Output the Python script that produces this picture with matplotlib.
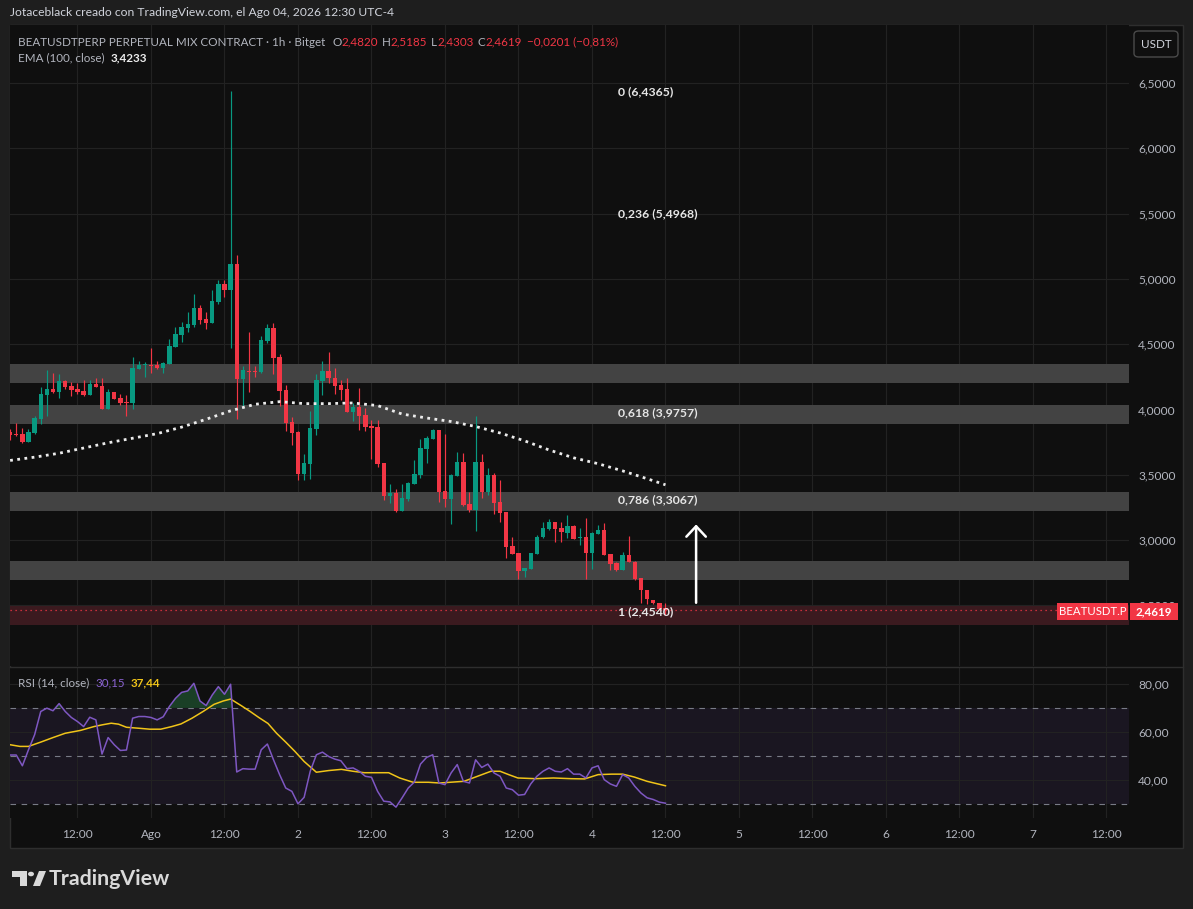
import matplotlib
matplotlib.use('Agg')
import matplotlib.pyplot as plt
from matplotlib.patches import Rectangle, FancyBboxPatch, Polygon, Circle
import numpy as np

plt.rcParams['font.family'] = ['Lato', 'DejaVu Sans']

# ---------------- data ----------------
opens = [3.828, 3.815, 3.812, 3.751, 3.822, 3.927, 4.111, 4.157, 4.134, 4.218,
         4.180, 4.157, 4.142, 4.111, 4.195, 4.180, 4.004, 4.134, 4.088, 4.058,
         4.050, 4.310, 4.339, 4.341, 4.341, 4.318, 4.349, 4.479, 4.571, 4.624,
         4.647, 4.777, 4.693, 4.662, 4.823, 4.961, 4.915, 5.114, 4.234, 4.297,
         4.295, 4.287, 4.525, 4.624, 4.402, 4.149, 3.904, 3.828, 3.508, 3.585,
         3.853, 4.220, 4.295, 4.241, 4.188, 4.157, 3.983, 4.019, 3.958, 3.874,
         3.866, 3.590, 3.340, 3.361, 3.225, 3.315, 3.430, 3.499, 3.698, 3.774,
         3.843, 3.376, 3.315, 3.491, 3.598, 3.277, 3.231, 3.598, 3.368, 3.499,
         3.292, 3.215, 2.955, 2.901, 2.766, 2.779, 2.893, 3.024, 3.088, 3.139,
         3.093, 3.054, 3.108, 3.016, 3.024, 2.901, 3.047, 3.077, 2.893, 2.825,
         2.771, 2.886, 2.832, 2.710, 2.618, 2.541, 2.518, 2.4820]
highs = [3.851, 3.899, 3.858, 3.851, 3.950, 4.172, 4.302, 4.279, 4.272, 4.226,
         4.210, 4.203, 4.226, 4.226, 4.241, 4.241, 4.157, 4.134, 4.119, 4.111,
         4.402, 4.371, 4.364, 4.471, 4.371, 4.364, 4.540, 4.632, 4.670, 4.747,
         4.884, 4.800, 4.747, 4.915, 4.992, 4.992, 6.4365, 5.183, 4.335, 4.593,
         4.333, 4.563, 4.657, 4.662, 4.425, 4.187, 3.940, 3.838, 3.659, 3.989,
         4.272, 4.371, 4.440, 4.318, 4.226, 4.241, 4.050, 4.165, 4.012, 3.920,
         3.920, 3.590, 3.430, 3.391, 3.430, 3.445, 3.613, 3.774, 3.797, 3.851,
         3.843, 3.812, 3.506, 3.675, 3.667, 3.368, 3.950, 3.659, 3.552, 3.514,
         3.460, 3.215, 3.024, 2.901, 2.786, 2.901, 3.039, 3.139, 3.162, 3.139,
         3.139, 3.192, 3.116, 3.093, 3.169, 3.062, 3.116, 3.131, 2.893, 2.832,
         2.909, 3.031, 2.840, 2.710, 2.618, 2.541, 2.518, 2.5185]
lows = [3.766, 3.797, 3.746, 3.751, 3.812, 3.889, 3.950, 4.126, 4.088, 4.157,
        4.103, 4.119, 4.103, 4.111, 4.172, 4.004, 4.004, 4.080, 4.035, 3.950,
        4.004, 4.310, 4.249, 4.279, 4.310, 4.279, 4.349, 4.479, 4.517, 4.593,
        4.632, 4.655, 4.616, 4.662, 4.808, 4.862, 4.471, 3.927, 4.014, 4.136,
        4.252, 4.282, 4.509, 4.274, 4.029, 3.838, 3.731, 3.463, 3.463, 3.470,
        3.807, 4.113, 4.205, 4.121, 4.075, 3.983, 3.912, 3.846, 3.838, 3.624,
        3.562, 3.310, 3.287, 3.218, 3.225, 3.299, 3.430, 3.478, 3.590, 3.774,
        3.292, 3.253, 3.123, 3.491, 3.261, 3.215, 3.070, 3.322, 3.345, 3.200,
        3.139, 2.863, 2.893, 2.702, 2.717, 2.779, 2.893, 3.016, 3.078, 2.985,
        2.985, 3.016, 3.008, 2.962, 2.702, 2.779, 3.047, 2.886, 2.771, 2.764,
        2.771, 2.832, 2.695, 2.518, 2.511, 2.511, 2.465, 2.4303]
closes = [3.807, 3.805, 3.751, 3.828, 3.935, 4.119, 4.157, 4.134, 4.218, 4.172,
          4.149, 4.134, 4.111, 4.195, 4.172, 4.004, 4.134, 4.080, 4.050, 4.050,
          4.318, 4.341, 4.341, 4.333, 4.318, 4.356, 4.486, 4.578, 4.632, 4.655,
          4.777, 4.685, 4.662, 4.831, 4.961, 4.915, 5.114, 4.234, 4.302, 4.287,
          4.287, 4.532, 4.624, 4.397, 4.144, 3.899, 3.822, 3.508, 3.588, 3.858,
          4.226, 4.295, 4.240, 4.180, 4.149, 3.983, 4.019, 3.953, 3.869, 3.861,
          3.585, 3.340, 3.361, 3.220, 3.322, 3.437, 3.506, 3.705, 3.782, 3.843,
          3.368, 3.315, 3.499, 3.598, 3.269, 3.231, 3.598, 3.368, 3.499, 3.284,
          3.208, 2.950, 2.893, 2.766, 2.786, 2.901, 3.024, 3.093, 3.139, 3.085,
          3.062, 3.108, 3.008, 3.024, 2.901, 3.054, 3.077, 2.886, 2.817, 2.771,
          2.886, 2.832, 2.702, 2.618, 2.549, 2.518, 2.472, 2.4619]

# EMA(100) read at selected candle indices
ema_idx = [0, 4, 8, 12, 16, 20, 24, 28, 32, 36, 38, 40, 44, 48, 52, 56, 60, 64,
           68, 72, 76, 80, 84, 88, 92, 96, 100, 104, 107]
ema_val = [3.610, 3.635, 3.665, 3.705, 3.745, 3.780, 3.815, 3.865, 3.925, 3.990,
           4.015, 4.040, 4.060, 4.045, 4.045, 4.050, 4.030, 3.965, 3.935, 3.908,
           3.870, 3.820, 3.760, 3.690, 3.630, 3.585, 3.530, 3.470, 3.4233]

rsi = [50.3, 50.3, 45.8, 52.5, 58.8, 68.5, 69.9, 68.8, 71.8, 68.5,
       66.0, 64.3, 62.2, 66.1, 65.0, 50.7, 57.6, 54.6, 52.2, 52.4,
       65.7, 66.4, 66.4, 66.0, 65.0, 66.3, 70.6, 74.0, 76.5, 77.1,
       80.3, 72.9, 71.0, 75.4, 78.9, 75.7, 79.9, 43.2, 44.6, 44.4,
       44.4, 52.5, 54.9, 48.3, 42.1, 36.5, 35.1, 29.9, 32.6, 43.5,
       50.4, 51.5, 49.7, 48.6, 47.9, 44.6, 44.9, 43.5, 41.4, 41.0,
       35.1, 31.0, 30.7, 28.5, 32.4, 36.5, 39.0, 46.5, 49.3, 50.4,
       38.6, 37.9, 42.8, 46.3, 39.3, 38.6, 48.3, 45.1, 46.5, 42.8,
       41.4, 36.5, 35.8, 33.5, 33.8, 38.2, 41.4, 43.5, 44.9, 43.5,
       43.2, 44.6, 42.3, 42.3, 40.7, 44.9, 45.8, 40.0, 38.2, 37.2,
       42.1, 40.7, 37.2, 34.4, 32.4, 31.7, 30.6, 30.15]

rsi_ma_idx = [0, 1.6, 3, 5, 7, 9, 11.5, 13.7, 15, 16.5, 17.7, 19, 21, 22.8, 24.6,
              26.4, 27.9, 29.7, 31.5, 33.3, 34.8, 36, 37.7, 39.2, 40.6, 42.1,
              43.5, 45, 46.5, 48, 50, 52, 54.1, 56, 57.8, 60, 61.8, 63.6, 65.8,
              68.3, 70.1, 74.1, 76.3, 78.5, 80, 81.4, 82.9, 85.8, 88.7, 91.6,
              93.8, 96, 98.2, 100, 101.9, 104, 107]
rsi_ma_val = [54.6, 53.9, 53.9, 55.7, 57.6, 59.4, 60.6, 62.2, 62.9, 63.6, 63.2,
              61.9, 61.5, 61.1, 61.1, 62.2, 63.3, 65.7, 68.5, 71.5, 72.9, 73.7,
              71.0, 68.5, 66.0, 63.5, 59.4, 55.7, 51.8, 47.6, 43.1, 43.8, 44.3,
              43.5, 42.9, 42.9, 42.9, 40.7, 38.9, 38.9, 38.6, 39.3, 41.4, 43.5,
              43.5, 42.1, 40.7, 40.4, 40.7, 40.4, 40.3, 42.1, 42.3, 42.3, 41.1,
              39.3, 37.44]

zones = [(4.203, 4.348), (3.891, 4.034), (3.225, 3.368), (2.697, 2.840)]
red_zone = (2.352, 2.495)
fib_levels = ["0", "0,236", "0,618", "0,786", "1"]
fib_prices = [6.4365, 5.4968, 3.9757, 3.3067, 2.4540]
fib_label_x = 99.25
arrow_x, arrow_from, arrow_to = 112, 2.52, 3.12

price_ticks = [2.5, 3.0, 3.5, 4.0, 4.5, 5.0, 5.5, 6.0, 6.5]
rsi_ticks = [40, 60, 80]
time_tick_idx = [11, 23, 35, 47, 59, 71, 83, 95, 107, 119, 131, 143, 155, 167, 179]
time_tick_labels = ["12:00", "Ago", "12:00", "2", "12:00", "3", "12:00", "4",
                    "12:00", "5", "12:00", "6", "12:00", "7", "12:00"]
last_price = 2.4619

# ---------------- styling ----------------
W, H = 1193, 909
BG_OUT = '#1e1e1e'
BG = '#0f0f0f'
GRID = '#222222'
GREEN = '#089981'
RED = '#f23645'
TXT = '#b2b5be'
TXT2 = '#d1d4dc'

fig = plt.figure(figsize=(W / 100, H / 100), dpi=100, facecolor=BG_OUT)


def fx(x):
    return x / W


def fy(y):
    return 1 - y / H


# chart panel
fig.patches.append(Rectangle((fx(10), fy(848)), fx(1183) - fx(10), fy(25) - fy(848),
                             transform=fig.transFigure, facecolor=BG,
                             edgecolor='#2e2e2e', lw=1, zorder=-5))

ax = fig.add_axes([fx(10), fy(666), fx(1129) - fx(10), fy(25) - fy(666)])
rx = fig.add_axes([fx(10), fy(818), fx(1129) - fx(10), fy(667.5) - fy(818)], sharex=ax)

for a in (ax, rx):
    a.set_facecolor(BG)
    for s in a.spines.values():
        s.set_visible(False)
    a.set_axisbelow(True)

idx = np.arange(len(opens))
o = np.array(opens); c = np.array(closes); hi = np.array(highs); lo = np.array(lows)
cols = np.where(c >= o, GREEN, RED)

# main pane
ax.set_xlim(-0.02, 182.68)
ax.set_ylim(2.036, 6.944)
for zlo, zhi in zones:
    ax.axhspan(zlo, zhi, color='#434343', lw=0, zorder=1)
ax.axhspan(red_zone[0], red_zone[1], color='#3b1a1f', lw=0, zorder=1)

ax.vlines(idx, lo, hi, colors=cols, lw=0.85, zorder=3)
body_h = np.maximum(np.abs(c - o), 0.007)
ax.bar(idx, body_h, bottom=np.minimum(o, c), width=0.72, color=cols, lw=0, zorder=4)

ax.plot(ema_idx, ema_val, color='#ececec', lw=2, linestyle=(0, (1, 1.6)), zorder=5)
ax.axhline(last_price, color=RED, lw=0.9, linestyle=(0, (1, 3)), zorder=2)

for lvl, p in zip(fib_levels, fib_prices):
    lbl = f"{lvl} ({p:.4f})".replace('.', ',')
    ax.text(fib_label_x, p, lbl, color='#e6e6e6', fontsize=8.8, fontweight='bold',
            ha='left', va='center', zorder=6)

ax.annotate('', xy=(arrow_x, arrow_to), xytext=(arrow_x, arrow_from),
            arrowprops=dict(arrowstyle='->,head_length=0.75,head_width=0.7',
                            color='white', lw=1.8, shrinkA=0, shrinkB=0), zorder=6)

ax.set_yticks(price_ticks)
ax.set_yticklabels([f"{v:.4f}".replace('.', ',') for v in price_ticks])
ax.yaxis.tick_right()
ax.tick_params(axis='y', length=0, pad=6.5, labelsize=8.6, labelcolor=TXT)
ax.tick_params(axis='x', length=0, labelbottom=False)
ax.set_xticks(time_tick_idx)
ax.grid(True, color=GRID, lw=0.8)

# RSI pane
rx.set_ylim(23.96, 86.9)
rx.axhspan(30, 70, color='#1a1621', lw=0, zorder=0.5)
for lvl in (70, 50, 30):
    rx.axhline(lvl, color='#787b86', lw=0.8, linestyle=(0, (5, 5)), zorder=1)
rsi_a = np.array(rsi)
rx.fill_between(idx, rsi_a, 70, where=rsi_a > 70, interpolate=True,
                color='#1a3f26', lw=0, zorder=1.5)
rx.plot(rsi_ma_idx, rsi_ma_val, color='#f0c419', lw=1.1, zorder=3)
rx.plot(idx, rsi_a, color='#7e57c2', lw=1.1, zorder=4)
rx.set_yticks(rsi_ticks)
rx.set_yticklabels([f"{v:.2f}".replace('.', ',') for v in rsi_ticks])
rx.yaxis.tick_right()
rx.tick_params(axis='y', length=0, pad=6.5, labelsize=8.6, labelcolor=TXT)
rx.set_xticks(time_tick_idx)
rx.set_xticklabels(time_tick_labels)
rx.tick_params(axis='x', length=0, pad=8, labelsize=8.6, labelcolor=TXT)
rx.grid(True, color=GRID, lw=0.8)

# pane separator
fig.add_artist(plt.Line2D([fx(10), fx(1183)], [fy(667), fy(667)],
                          transform=fig.transFigure, color='#2e2e2e', lw=1))

# price labels on right
fig.patches.append(Rectangle((fx(1057), fy(620)), fx(1128) - fx(1057), fy(603) - fy(620),
                             transform=fig.transFigure, facecolor=RED, lw=0, zorder=5))
fig.patches.append(Rectangle((fx(1130), fy(620)), fx(1178) - fx(1130), fy(603) - fy(620),
                             transform=fig.transFigure, facecolor=RED, lw=0, zorder=5))
fig.text(fx(1092.5), fy(611.5), "BEATUSDT.P", color='white', fontsize=8.2,
         ha='center', va='center', zorder=6)
fig.text(fx(1154), fy(611.5), f"{last_price:.4f}".replace('.', ','), color='white',
         fontsize=8.4, fontweight='bold', ha='center', va='center', zorder=6)

# USDT button
fig.patches.append(FancyBboxPatch((fx(1134), fy(57)), fx(1178) - fx(1134), fy(31) - fy(57),
                                  boxstyle='round,pad=0,rounding_size=0.004',
                                  transform=fig.transFigure, facecolor=BG,
                                  edgecolor='#4a4a4a', lw=1, zorder=5))
fig.text(fx(1156), fy(44), "USDT", color=TXT2, fontsize=8.4, ha='center', va='center', zorder=6)

renderer = fig.canvas.get_renderer()


def seq(parts, x0, y, size):
    x = x0
    for text, color, weight, gap in parts:
        x += gap
        t = fig.text(fx(x), fy(y), text, color=color, fontsize=size,
                     fontweight=weight, ha='left', va='center')
        bb = t.get_window_extent(renderer=renderer)
        x = bb.x1
    return x


def fit(x, y, s, target, size, **kw):
    t = fig.text(fx(x), fy(y), s, fontsize=size, ha='left', va='center', **kw)
    w = t.get_window_extent(renderer=renderer).width
    t.set_fontsize(size * target / w)
    return t


fit(10, 13, "Jotaceblack creado con TradingView.com, el Ago 04, 2026 12:30 UTC-4",
    381, 8.6, color=TXT2)

LS = 8.4
seq([("BEATUSDTPERP PERPETUAL MIX CONTRACT · 1h · Bitget", TXT, 'normal', 0),
     ("O", TXT, 'normal', 7), ("2,4820", RED, 'normal', 0),
     ("H", TXT, 'normal', 4), ("2,5185", RED, 'normal', 0),
     ("L", TXT, 'normal', 4), ("2,4303", RED, 'normal', 0),
     ("C", TXT, 'normal', 4), ("2,4619", RED, 'normal', 0),
     ("−0,0201 (−0,81%)", RED, 'normal', 5)], 18, 42, LS)
seq([("EMA (100, close)", TXT, 'normal', 0), ("3,4233", '#ececec', 'bold', 6)], 18, 58, LS)
seq([("RSI (14, close)", TXT, 'normal', 0), ("30,15", '#8a63d2', 'normal', 6),
     ("37,44", '#f0c419', 'bold', 6)], 18, 683, LS)

# TradingView logo
lc = '#d9d9d9'
fig.patches.append(Polygon([(fx(12), fy(871)), (fx(27), fy(871)), (fx(27), fy(886)),
                            (fx(20), fy(886)), (fx(20), fy(877)), (fx(12), fy(877))],
                           closed=True, transform=fig.transFigure, facecolor=lc, lw=0))
fig.patches.append(Circle((fx(31), fy(874)), 3 / W, transform=fig.transFigure,
                          facecolor=lc, lw=0))
fig.patches.append(Polygon([(fx(33), fy(886)), (fx(39), fy(871)), (fx(41), fy(871)),
                            (fx(41), fy(871)), (fx(46), fy(871)), (fx(40), fy(886))],
                           closed=True, transform=fig.transFigure, facecolor=lc, lw=0))
fit(49, 879, "TradingView", 121, 15.5, color=lc, fontweight='bold')

fig.savefig('out.png', dpi=100, facecolor=BG_OUT)
